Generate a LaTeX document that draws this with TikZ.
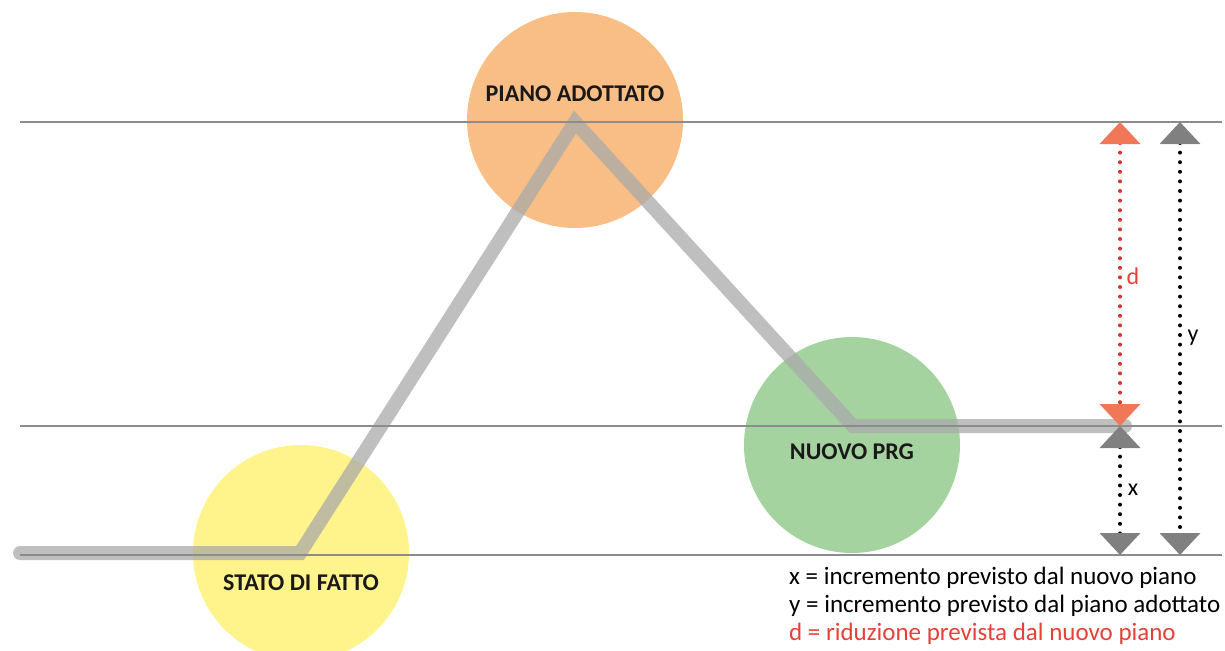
\documentclass[tikz,border=0pt]{standalone}
\usepackage{fontspec}
\setmainfont{Carlito}
\usetikzlibrary{arrows.meta}
\definecolor{yelfill}{RGB}{255,243,140}
\definecolor{orafill}{RGB}{249,190,133}
\definecolor{grefill}{RGB}{165,211,160}
\definecolor{pathgray}{RGB}{170,170,170}
\definecolor{refline}{RGB}{140,140,140}
\definecolor{tipred}{RGB}{240,120,88}
\definecolor{dotred}{RGB}{215,50,45}
\definecolor{txtred}{RGB}{230,65,55}
\definecolor{tipgray}{RGB}{128,128,128}
\tikzset{
  phase/.style={circle, draw=none, minimum size=216pt, inner sep=0pt},
  phaselabel/.style={font=\fontsize{24}{28}\selectfont\bfseries, text=black!90, inner sep=0pt},
  trend/.style={line width=14pt, draw=pathgray, draw opacity=0.75, line cap=round, line join=miter},
  level/.style={draw=refline, line width=1.1pt},
  dots/.style={line width=4pt, line cap=round, dash pattern=on 0pt off 9.6pt},
  reddim/.style={dots, draw=dotred, {Triangle[length=22pt,width=40pt,color=tipred]}-{Triangle[length=22pt,width=40pt,color=tipred]}},
  graydim/.style={dots, draw=black, {Triangle[length=22pt,width=40pt,color=tipgray]}-{Triangle[length=22pt,width=40pt,color=tipgray]}},
  dimlabel/.style={font=\fontsize{24}{28}\selectfont, inner sep=0pt},
  legend/.style={font=\fontsize{25}{28}\selectfont, anchor=west, inner sep=0pt}
}
\begin{document}
\begin{tikzpicture}[x=1pt, y=-1pt]
\useasboundingbox (0,0) rectangle (1225,650);

% phase circles
\node[phase, fill=yelfill] (stato) at (301,553) {};
\node[phase, fill=orafill] (piano) at (575,120) {};
\node[phase, fill=grefill] (nuovo) at (852,445) {};

% trend line through the three phases
\coordinate (t0) at (20,553);
\coordinate (t1) at (300,553);
\coordinate (t2) at (575,122);
\coordinate (t3) at (853,426);
\coordinate (t4) at (1125,426);
\draw[trend] (t0) -- (t1) -- (t2) -- (t3) -- (t4);

% reference levels
\coordinate (l1a) at (20,122);  \coordinate (l1b) at (1222,122);
\coordinate (l2a) at (20,426);  \coordinate (l2b) at (1222,426);
\coordinate (l3a) at (20,555);  \coordinate (l3b) at (1222,555);
\draw[level] (l1a) -- (l1b);
\draw[level] (l2a) -- (l2b);
\draw[level] (l3a) -- (l3b);

% phase labels
\node[phaselabel] (lstato) at (301,583) {STATO DI FATTO};
\node[phaselabel] (lpiano) at (575,94) {PIANO ADOTTATO};
\node[phaselabel] (lnuovo) at (852,452) {NUOVO PRG};

% dimension markers
\coordinate (dtop) at (1120,122);
\coordinate (dbot) at (1120,426);
\coordinate (xtop) at (1120,426);
\coordinate (xbot) at (1120,555);
\coordinate (ytop) at (1180,122);
\coordinate (ybot) at (1180,555);
\draw[reddim] (dtop) -- (dbot);
\draw[graydim] (xtop) -- (xbot);
\draw[graydim] (ytop) -- (ybot);

\node[dimlabel, text=txtred] (dlab) at (1133,276) {d};
\node[dimlabel] (xlab) at (1133,490) {x};
\node[dimlabel] (ylab) at (1193,338) {y};

% legend
\node[legend] (lx) at (789,578) {x = incremento previsto dal nuovo piano};
\node[legend] (ly) at (789,606) {y = incremento previsto dal piano adottato};
\node[legend, text=txtred] (ld) at (789,634) {d = riduzione prevista dal nuovo piano};
\end{tikzpicture}
\end{document}
